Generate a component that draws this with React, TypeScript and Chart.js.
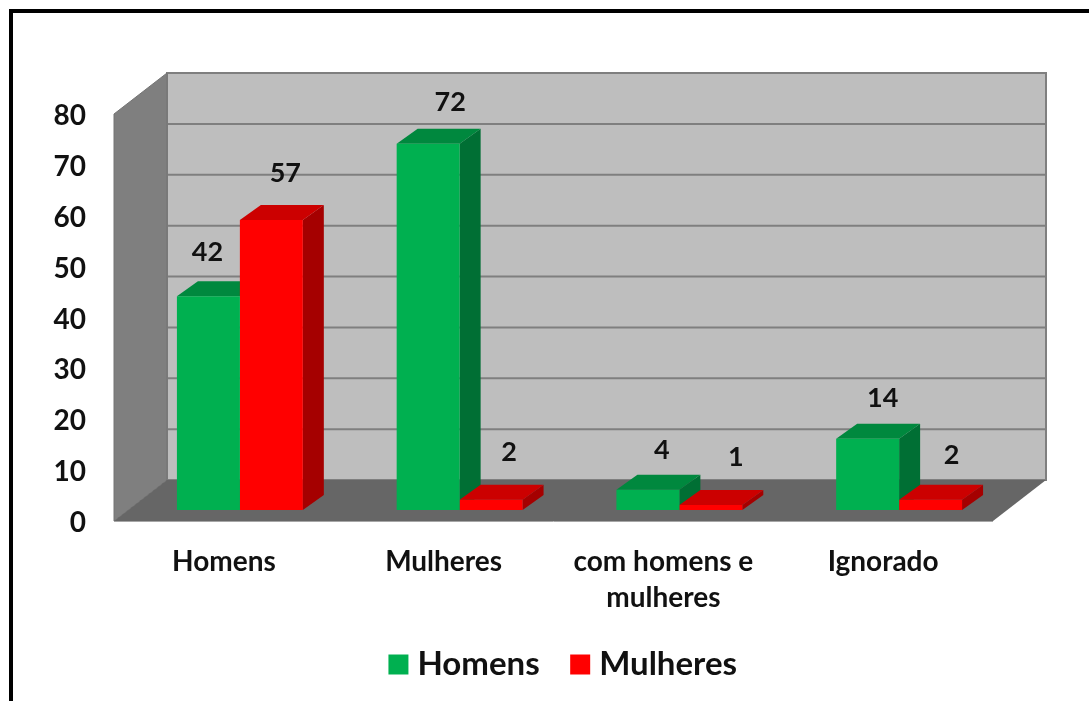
import React, { useEffect, useRef } from "react";
import { Chart, registerables } from "chart.js";

Chart.register(...registerables);

const categories = ["Homens", "Mulheres", ["com homens e", "mulheres"], "Ignorado"];
const seriesNames = ["Homens", "Mulheres"];
const homensValues = [42, 72, 4, 14];
const mulheresValues = [57, 2, 1, 2];
const yTickStep = 10;
const yMax = 80;

const FONT = "Lato";
const WALL_DEPTH = { x: 53, y: -41 };
const BAR_SHIFT = { x: 16, y: -11 };
const BAR_DEPTH = { x: 21, y: -15 };
const FACE_COLORS = [
  { front: "#00B050", top: "#00883E", side: "#006F34" },
  { front: "#FF0000", top: "#CC0000", side: "#A50000" },
];
// hand-placed label nudges from the default centre-above-bar position
const LABEL_NUDGE = [
  [[-1, -44], [22, -41], [14, -39], [15, -40]],
  [[14, -47], [18, -48], [25, -48], [21, -45]],
];

const poly = (ctx: CanvasRenderingContext2D, pts: number[][], fill: string, stroke?: string, lw = 1) => {
  ctx.beginPath();
  pts.forEach(([x, y], i) => (i ? ctx.lineTo(x, y) : ctx.moveTo(x, y)));
  ctx.closePath();
  ctx.fillStyle = fill;
  ctx.fill();
  if (stroke) {
    ctx.strokeStyle = stroke;
    ctx.lineWidth = lw;
    ctx.stroke();
  }
};

const scene3d = {
  id: "scene3d",
  afterLayout(chart: any) {
    const lg = chart.legend;
    lg.left = 44;
    lg.right = 1089;
    lg.top = 610;
  },
  beforeDraw(chart: any) {
    const { ctx, chartArea: a, scales } = chart;
    ctx.save();
    ctx.fillStyle = "#fff";
    ctx.fillRect(0, 0, chart.width, chart.height);
    ctx.strokeStyle = "#000";
    ctx.lineWidth = 4;
    ctx.strokeRect(11, 11, 1300, 1000);

    const d = WALL_DEPTH;
    // back wall
    poly(ctx, [[a.left + d.x, a.top + d.y], [a.right + d.x, a.top + d.y], [a.right + d.x, a.bottom + d.y], [a.left + d.x, a.bottom + d.y]], "#BEBEBE", "#7F7F7F", 2);
    // grid on the back wall
    ctx.strokeStyle = "#7F7F7F";
    ctx.lineWidth = 2;
    scales.y.ticks.forEach((t: any) => {
      const y = scales.y.getPixelForValue(t.value) + d.y;
      ctx.beginPath();
      ctx.moveTo(a.left + d.x, y);
      ctx.lineTo(a.right + d.x, y);
      ctx.stroke();
    });
    // side wall
    poly(ctx, [[a.left, a.top], [a.left + d.x, a.top + d.y], [a.left + d.x, a.bottom + d.y], [a.left, a.bottom]], "#7F7F7F", "#747474", 1);
    // floor
    poly(ctx, [[a.left, a.bottom], [a.right, a.bottom], [a.right + d.x, a.bottom + d.y], [a.left + d.x, a.bottom + d.y]], "#666666");
    ctx.strokeStyle = "#A6A6A6";
    ctx.lineWidth = 1;
    ctx.beginPath();
    ctx.moveTo(a.left, a.bottom + 0.5);
    ctx.lineTo(a.right, a.bottom + 0.5);
    ctx.stroke();
    ctx.restore();
  },
  beforeDatasetsDraw(chart: any) {
    const { ctx } = chart;
    ctx.save();
    ctx.translate(BAR_SHIFT.x, BAR_SHIFT.y);
    const n = chart.data.labels.length;
    const dx = BAR_DEPTH.x;
    const dy = BAR_DEPTH.y;
    for (let i = 0; i < n; i++) {
      chart.data.datasets.forEach((_: any, di: number) => {
        const el = chart.getDatasetMeta(di).data[i];
        const c = FACE_COLORS[di];
        const l = el.x - el.width / 2;
        const r = el.x + el.width / 2;
        const t = el.y;
        const b = el.base;
        poly(ctx, [[r, t], [r + dx, t + dy], [r + dx, b + dy], [r, b]], c.side);
        poly(ctx, [[l, t], [r, t], [r + dx, t + dy], [l + dx, t + dy]], c.top);
      });
    }
  },
  afterDatasetsDraw(chart: any) {
    const { ctx } = chart;
    ctx.restore();
    ctx.save();
    ctx.fillStyle = "#111";
    ctx.font = `bold 27px ${FONT}`;
    ctx.textAlign = "center";
    ctx.textBaseline = "middle";
    chart.data.datasets.forEach((ds: any, di: number) => {
      chart.getDatasetMeta(di).data.forEach((el: any, i: number) => {
        const [nx, ny] = LABEL_NUDGE[di][i];
        ctx.fillText(String(ds.data[i]), el.x + BAR_SHIFT.x + nx, el.y + BAR_SHIFT.y + ny);
      });
    });
    ctx.restore();
  },
};

export default function App() {
  const ref = useRef<HTMLCanvasElement>(null);
  useEffect(() => {
    const chart = new Chart(ref.current!, {
      type: "bar",
      data: {
        labels: categories as any,
        datasets: [
          { label: seriesNames[0], data: homensValues, backgroundColor: FACE_COLORS[0].front, borderWidth: 0, clip: false as any },
          { label: seriesNames[1], data: mulheresValues, backgroundColor: FACE_COLORS[1].front, borderWidth: 0, clip: false as any },
        ],
      },
      options: {
        animation: false,
        responsive: false,
        devicePixelRatio: 1,
        layout: { padding: { left: 0, right: 96, top: 114, bottom: 0 } },
        datasets: { bar: { categoryPercentage: 0.573, barPercentage: 1 } },
        scales: {
          x: {
            grid: { display: false, drawTicks: false },
            border: { display: false },
            ticks: {
              color: "#111",
              font: { family: FONT, weight: "bold", size: 28, lineHeight: 1.29 },
              padding: 23,
              autoSkip: false,
              maxRotation: 0,
              minRotation: 0,
            },
            afterFit(scale: any) {
              scale.height = 180 - scale.chart.legend.height;
            },
          },
          y: {
            min: 0,
            max: yMax,
            grid: { display: false, drawTicks: false },
            border: { display: false },
            ticks: {
              stepSize: yTickStep,
              color: "#111",
              font: { family: FONT, weight: "bold", size: 28 },
              padding: 28,
              labelOffset: 2,
            },
            afterFit(scale: any) {
              scale.width = 114;
            },
          },
        },
        plugins: {
          tooltip: { enabled: false },
          legend: {
            display: true,
            position: "bottom",
            labels: {
              usePointStyle: true,
              pointStyle: "rect",
              boxWidth: 5,
              boxHeight: 20,
              padding: 38,
              color: "#111",
              font: { family: FONT, weight: "bold", size: 33 },
            },
          },
        },
      },
      plugins: [scene3d],
    } as any);
    return () => chart.destroy();
  }, []);
  return (
    <div style={{ position: "absolute", left: 0, top: 0, width: 1089, height: 701, overflow: "hidden" }}>
      <canvas ref={ref} width={1089} height={701} style={{ display: "block" }} />
    </div>
  );
}
